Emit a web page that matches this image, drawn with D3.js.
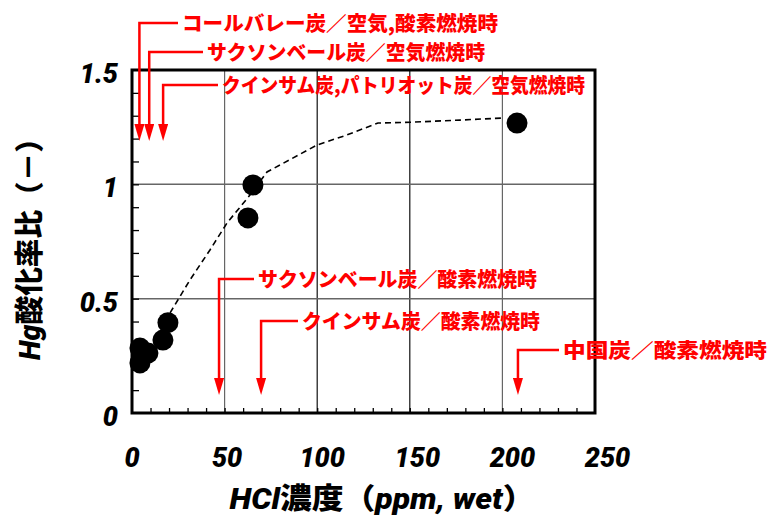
<!DOCTYPE html>
<html>
<head>
<meta charset="utf-8">
<script src="https://cdn.jsdelivr.net/npm/d3@7"></script>
<style>
  body { margin: 0; background: #fff; }
  svg { display: block; }
  .tick-label { font-family: Roboto, "DejaVu Sans", sans-serif; font-weight: 900; font-style: italic; font-size: 27px; }
  .axis-title { font-family: "Noto Sans CJK JP", sans-serif; font-weight: 900; font-size: 29px; }
  .ital { font-family: Roboto, "DejaVu Sans", sans-serif; font-style: italic; }
  .anno { font-family: "Noto Sans CJK JP", sans-serif; font-weight: 900; font-size: 20px; fill: #ff0000; }
</style>
</head>
<body>
<div id="chart"></div>
<script>
// measured points: HCl concentration (ppm, wet) vs Hg oxidation ratio
var hclPpm   = [4.3, 4.3, 8.6, 16.7, 19.4, 62.6, 65.3, 207.9];
var oxRatio  = [0.284, 0.219, 0.262, 0.319, 0.395, 0.853, 0.997, 1.268];

// dashed trend line
var trendX = [19.4, 20.5, 31.3, 42.1, 51.3, 63.7, 72.9, 99.9, 116.1, 132.8, 151.7, 177.1, 200.3];
var trendY = [0.395, 0.437, 0.582, 0.713, 0.831, 0.953, 1.054, 1.172, 1.216, 1.268, 1.272, 1.281, 1.290];

var xTicks = [0, 50, 100, 150, 200, 250];
var yTicks = [0, 0.5, 1, 1.5];

// red annotations: which coal / which combustion, pointing at an HCl value
var annoLabels = [
  "コールバレー炭／空気,酸素燃焼時",
  "サクソンベール炭／空気燃焼時",
  "クインサム炭,パトリオット炭／空気燃焼時",
  "サクソンベール炭／酸素燃焼時",
  "クインサム炭／酸素燃焼時",
  "中国炭／酸素燃焼時"
];
var annoX = [4, 9.3, 16.8, 47, 69.7, 208.4];

// layout for the annotations (pixels)
var annoTextX = [182, 207, 222, 258, 302, 563];
var annoTextW = [316, 278, 363, 279, 238, 204];
var annoLineY = [23, 52, 85, 279, 321, 350];
var annoTipY  = [141, 141, 141, 395, 395, 395];

var svgWidth = 769, svgHeight = 519;
var margin = { top: 70, right: 174, bottom: 106, left: 132 };
var width = svgWidth - margin.left - margin.right;
var height = svgHeight - margin.top - margin.bottom;

var svg = d3.select("#chart").append("svg")
  .attr("width", svgWidth)
  .attr("height", svgHeight);

// arrowhead drawn along +x so orient=auto turns it to point down the line
svg.append("defs").append("marker")
  .attr("id", "arrowhead")
  .attr("viewBox", "0 0 17 10")
  .attr("refX", 4).attr("refY", 5)
  .attr("markerUnits", "userSpaceOnUse")
  .attr("markerWidth", 17).attr("markerHeight", 10)
  .attr("orient", "auto")
  .append("path")
  .attr("d", "M0,0 L17,5 L0,10 Z")
  .attr("fill", "#ff0000");

var chartGroup = svg.append("g")
  .attr("transform", `translate(${margin.left}, ${margin.top})`);

var xScale = d3.scaleLinear().domain([0, 250]).range([0, width]);
var yScale = d3.scaleLinear().domain([0, 1.5]).range([height, 0]);

// grid lines
chartGroup.append("g").selectAll("line")
  .data(xTicks.slice(1, -1))
  .enter().append("line")
  .attr("x1", d => xScale(d)).attr("x2", d => xScale(d))
  .attr("y1", 0).attr("y2", height)
  .attr("stroke", (d, i) => (i === 1 || i === 2) ? "#111" : "#666")
  .attr("stroke-width", 1.2);
chartGroup.append("g").selectAll("line")
  .data(yTicks.slice(1, -1))
  .enter().append("line")
  .attr("x1", 0).attr("x2", width)
  .attr("y1", d => yScale(d)).attr("y2", d => yScale(d))
  .attr("stroke", "#666")
  .attr("stroke-width", 1.5);

// minor ticks pointing inward
var xMinor = d3.range(10, 250, 10);
var yMinor = d3.range(0.1, 1.5, 0.1);
var bottomAxis = d3.axisBottom(xScale).tickValues(xMinor).tickSize(-5).tickFormat("");
var leftAxis = d3.axisLeft(yScale).tickValues(yMinor).tickSize(-7).tickFormat("");
chartGroup.append("g")
  .attr("transform", `translate(0, ${height})`)
  .call(bottomAxis)
  .call(g => g.select(".domain").remove())
  .selectAll("line").attr("stroke", "#000").attr("stroke-width", 1.3);
chartGroup.append("g")
  .call(leftAxis)
  .call(g => g.select(".domain").remove())
  .selectAll("line").attr("stroke", "#000").attr("stroke-width", 1.3);

// tick labels
chartGroup.append("g").selectAll("text")
  .data(xTicks)
  .enter().append("text")
  .attr("class", "tick-label")
  .attr("x", d => xScale(d) + d * 0.05)
  .attr("y", height + 54)
  .attr("text-anchor", "middle")
  .text(d => d);
chartGroup.append("g").selectAll("text")
  .data(yTicks)
  .enter().append("text")
  .attr("class", "tick-label")
  .attr("x", -14)
  .attr("y", d => yScale(d) + 13)
  .attr("text-anchor", "end")
  .text(d => d);

// plot frame
chartGroup.append("rect")
  .attr("x", 0).attr("y", 0)
  .attr("width", width).attr("height", height)
  .attr("fill", "none")
  .attr("stroke", "#000")
  .attr("stroke-width", 3);

// dashed trend line
var trendLine = d3.line()
  .x(d => xScale(d[0]))
  .y(d => yScale(d[1]));
chartGroup.append("path")
  .datum(d3.zip(trendX, trendY))
  .attr("d", trendLine)
  .attr("fill", "none")
  .attr("stroke", "#000")
  .attr("stroke-width", 1.6)
  .attr("stroke-dasharray", "6,4");

// points
chartGroup.selectAll("circle")
  .data(d3.zip(hclPpm, oxRatio))
  .enter().append("circle")
  .attr("cx", d => xScale(d[0]))
  .attr("cy", d => yScale(d[1]))
  .attr("r", 10.5)
  .attr("fill", "#000");

// annotations
var annoGroup = svg.append("g");
annoLabels.forEach(function(label, i) {
  var ax = margin.left + xScale(annoX[i]);
  annoGroup.append("path")
    .attr("d", `M${annoTextX[i] - 4},${annoLineY[i]} H${ax} V${annoTipY[i] - 13}`)
    .attr("fill", "none")
    .attr("stroke", "#ff0000")
    .attr("stroke-width", 2.5)
    .attr("marker-end", "url(#arrowhead)");
  annoGroup.append("text")
    .attr("class", "anno")
    .attr("x", annoTextX[i])
    .attr("y", annoLineY[i] + 8)
    .attr("textLength", annoTextW[i])
    .attr("lengthAdjust", "spacingAndGlyphs")
    .text(label);
});

// axis titles
var xTitle = svg.append("text")
  .attr("class", "axis-title")
  .attr("x", 382)
  .attr("y", 509)
  .attr("text-anchor", "middle")
  .attr("textLength", 305)
  .attr("lengthAdjust", "spacingAndGlyphs");
xTitle.append("tspan").attr("class", "ital").text("HCl");
xTitle.append("tspan").text("濃度（");
xTitle.append("tspan").attr("class", "ital").text("ppm, wet");
xTitle.append("tspan").text("）");

var yTitle = svg.append("text")
  .attr("class", "axis-title")
  .attr("transform", "translate(40, 242) rotate(-90)")
  .attr("text-anchor", "middle")
  .attr("textLength", 236)
  .attr("lengthAdjust", "spacingAndGlyphs");
yTitle.append("tspan").attr("class", "ital").text("Hg");
yTitle.append("tspan").text("酸化率比（－）");
</script>
</body>
</html>
